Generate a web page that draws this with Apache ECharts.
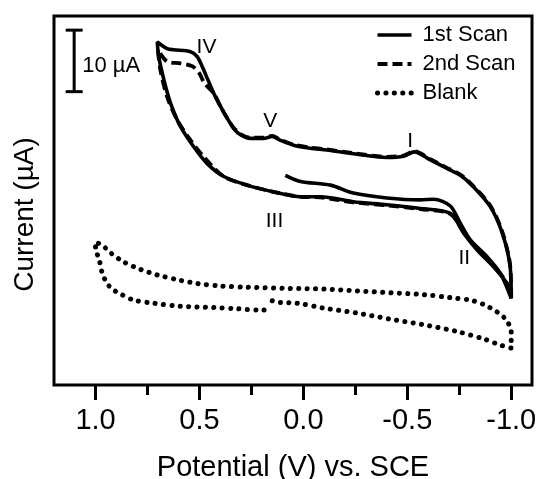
<!DOCTYPE html>
<html>
<head>
<meta charset="utf-8">
<script src="https://cdn.jsdelivr.net/npm/echarts@6/dist/echarts.min.js"></script>
<style>
html, body { margin: 0; padding: 0; background: #fff; }
#chart { width: 542px; height: 479px; }
</style>
</head>
<body>
<div id="chart"></div>
<script>
// potential (V) and current (uA, arbitrary offset)
var scan1V = [0.087, 0.014, -0.130, -0.240, -0.402, -0.563, -0.627, -0.707, -0.755, -0.803, -0.883, -0.947, -1.0,
	-0.995, -0.957, -0.899, -0.813, -0.755, -0.691, -0.611, -0.534, -0.482, -0.402, -0.242, -0.114, -0.034, 0.047, 0.111, 0.151, 0.191, 0.255, 0.303, 0.335, 0.367, 0.399, 0.431, 0.463, 0.487, 0.511, 0.543, 0.624, 0.656, 0.703,
	0.696, 0.671, 0.639, 0.591, 0.527, 0.463, 0.383, 0.271, 0.143, 0.014, -0.082, -0.240, -0.402, -0.563, -0.707, -0.771, -0.835, -0.915, -0.979, -1.0];
var scan1I = [34.1, 33.1, 32.5, 31.2, 30.4, 30.1, 30.2, 29.1, 26.3, 23.6, 20.9, 18.2, 14.1,
	19.2, 24.7, 29.0, 32.4, 34.1, 35.2, 36.6, 37.9, 37.2, 37.0, 37.6, 38.2, 38.5, 39.0, 39.8, 40.4, 40.1, 40.1, 40.7, 41.7, 43.4, 45.3, 47.4, 49.9, 51.8, 53.4, 54.2, 54.5, 54.7, 55.8,
	53.4, 49.6, 45.8, 42.0, 38.7, 36.0, 33.9, 32.5, 31.4, 30.6, 30.6, 29.8, 29.3, 28.7, 27.9, 24.7, 22.0, 19.2, 16.5, 14.1];

var scan2V = [-1.0, -0.995, -0.957, -0.899, -0.813, -0.755, -0.691, -0.611, -0.534, -0.482, -0.402, -0.242, -0.114, -0.034, 0.047, 0.111, 0.151, 0.191, 0.255, 0.303,
	0.335, 0.367, 0.399, 0.431, 0.477, 0.501, 0.533, 0.591, 0.656, 0.700, 0.688, 0.656, 0.607, 0.543, 0.479, 0.383, 0.271, 0.143, 0.014, -0.082,
	-0.240, -0.402, -0.563, -0.707, -0.771, -0.835, -0.915, -0.979, -1.0];
var scan2I = [14.1, 19.4, 24.9, 29.2, 32.5, 34.2, 35.3, 36.7, 38.0, 37.3, 37.1, 37.7, 38.3, 38.6, 39.1, 39.9, 40.5, 40.2, 40.2, 40.8,
	41.8, 43.4, 45.3, 47.4, 49.1, 50.7, 51.8, 52.3, 52.6, 54.5, 51.2, 46.9, 43.1, 39.8, 37.1, 33.9, 32.5, 31.4, 30.6, 30.5,
	29.7, 29.2, 28.6, 27.8, 24.9, 22.2, 19.4, 16.6, 14.1];

var blankV = [0.150, 0.111, 0.030, -0.098, -0.258, -0.418, -0.578, -0.739, -0.867, -0.947, -1.0, -1.0, -1.0, -0.987, -0.971, -0.931, -0.867, -0.803, -0.707, -0.578,
	-0.418, -0.258, -0.098, 0.063, 0.271, 0.399, 0.511, 0.591, 0.703, 0.784, 0.864, 0.928, 0.960, 1.0, 1.0, 0.984, 0.968, 0.944, 0.920, 0.880,
	0.816, 0.720, 0.591, 0.431, 0.319, 0.207, 0.167];
var blankI = [13.7, 13.4, 13.3, 12.5, 11.7, 10.7, 9.8, 8.7, 7.5, 6.5, 6.0, 7.0, 8.7, 10.0, 10.8, 11.9, 13.1, 13.8, 14.2, 14.7,
	15.0, 15.3, 15.6, 15.7, 15.9, 16.1, 16.5, 17.0, 17.9, 18.8, 20.0, 21.5, 22.5, 23.3, 22.1, 20.6, 18.2, 16.5, 15.6, 14.8,
	13.8, 13.3, 12.8, 12.6, 12.4, 12.2, 12.2];

var majorTicks = [1.0, 0.5, 0.0, -0.5, -1.0];
var minorTicks = [0.75, 0.25, -0.25, -0.75];

// scale bar: 10 uA
var scaleBarV = [1.103, 1.103];
var scaleBarI = [47.7, 57.7];

// peak labels
var peakNames = ['IV', 'V', 'I', 'II', 'III', '10 µA'];
var peakV = [0.466, 0.159, -0.514, -0.774, 0.139, 1.103];
var peakI = [54.96, 42.85, 39.7, 20.65, 26.7, 52.7];

function zip(a, b) {
	var out = [];
	for (var i = 0; i < a.length; i++) out.push([a[i], b[i]]);
	return out;
}

var FONT = '"Liberation Sans", Arial, sans-serif';

var labelData = peakNames.map(function (n, i) {
	var d = { name: n, value: [peakV[i], peakI[i]] };
	if (n === '10 µA') {
		d.label = { position: 'right', offset: [3, 5], fontSize: 22 };
	}
	return d;
});

var myChart = echarts.init(document.getElementById('chart'));
var option = {
	animation: false,
	backgroundColor: '#fff',
	textStyle: { fontFamily: FONT, color: '#000' },
	grid: {
		left: 54, right: 10, top: 16, bottom: 94,
		outerBoundsMode: 'none',
		containLabel: false,
		show: true, borderColor: '#000', borderWidth: 3
	},
	legend: {
		data: ['1st Scan', '2nd Scan', 'Blank'],
		orient: 'vertical',
		left: 370, top: 19,
		itemWidth: 34, itemHeight: 20, itemGap: 7,
		itemStyle: { opacity: 0 },
		lineStyle: { width: 'inherit' },
		textStyle: { fontFamily: FONT, fontSize: 22, color: '#000', padding: [0, 0, 0, 6], lineHeight: 20 }
	},
	xAxis: [{
		type: 'value',
		min: -1.1, max: 1.2,
		inverse: true,
		position: 'bottom',
		name: 'Potential (V) vs. SCE',
		nameLocation: 'middle',
		nameGap: 68,
		nameTextStyle: { fontFamily: FONT, fontSize: 29, color: '#000' },
		axisLine: { show: false },
		splitLine: { show: false },
		axisTick: { show: true, customValues: majorTicks, length: 15, lineStyle: { color: '#000', width: 3 } },
		axisLabel: {
			customValues: majorTicks, margin: 21,
			fontFamily: FONT, fontSize: 29, color: '#000',
			formatter: function (v) { return v.toFixed(1); }
		}
	}, {
		type: 'value',
		min: -1.1, max: 1.2,
		inverse: true,
		position: 'bottom',
		axisLine: { show: false },
		splitLine: { show: false },
		axisLabel: { show: false },
		axisTick: { show: true, customValues: minorTicks, length: 10, lineStyle: { color: '#000', width: 3 } }
	}],
	yAxis: {
		type: 'value',
		min: 0, max: 60,
		name: 'Current (µA)',
		nameLocation: 'middle',
		nameGap: 15,
		nameTextStyle: { fontFamily: FONT, fontSize: 28, color: '#000', padding: [0, 28, 0, 0] },
		axisLine: { show: false },
		axisTick: { show: false },
		axisLabel: { show: false },
		splitLine: { show: false }
	},
	series: [
		{
			name: 'Blank', type: 'line', data: zip(blankV, blankI),
			symbol: 'none', smooth: 0.3,
			itemStyle: { color: '#000' },
			lineStyle: { color: '#000', width: 5, type: [0.1, 8.3], cap: 'round' }
		},
		{
			name: '2nd Scan', type: 'line', data: zip(scan2V, scan2I),
			symbol: 'none', smooth: 0.3,
			itemStyle: { color: '#000' },
			lineStyle: { color: '#000', width: 3.8, type: [10, 5] }
		},
		{
			name: '1st Scan', type: 'line', data: zip(scan1V, scan1I),
			symbol: 'none', smooth: 0.3,
			itemStyle: { color: '#000' },
			lineStyle: { color: '#000', width: 3.6 }
		},
		{
			name: 'scalebar', type: 'line', data: zip(scaleBarV, scaleBarI),
			symbol: 'rect', symbolSize: [17, 3], showSymbol: true,
			itemStyle: { color: '#000' },
			lineStyle: { color: '#000', width: 3 }
		},
		{
			name: 'labels', type: 'scatter', data: labelData,
			symbolSize: 0, itemStyle: { color: '#000', opacity: 1 },
			label: {
				show: true, position: 'inside', formatter: '{b}',
				fontFamily: FONT, fontSize: 21, color: '#000', opacity: 1
			}
		}
	]
};
myChart.setOption(option);
</script>
</body>
</html>
